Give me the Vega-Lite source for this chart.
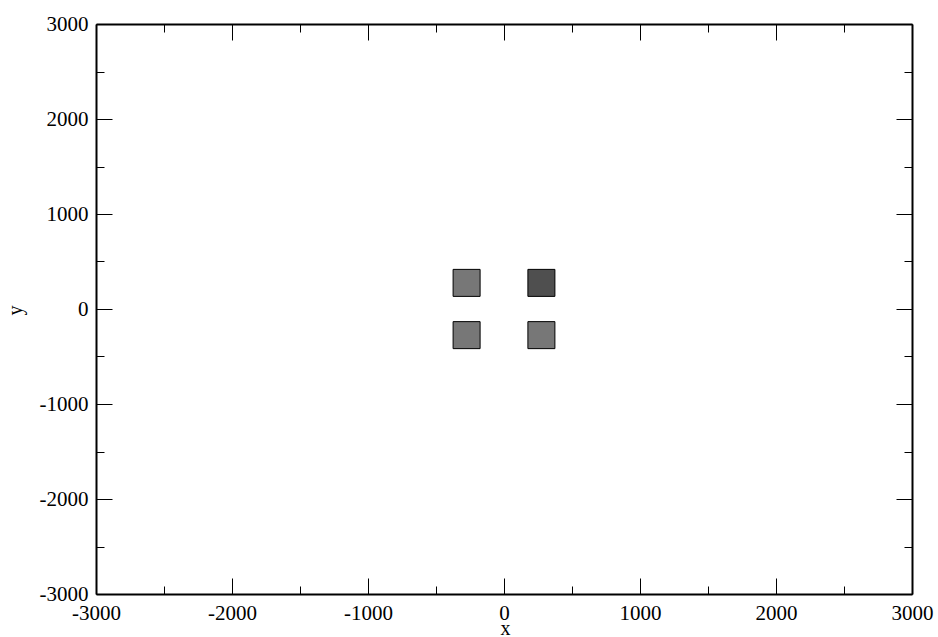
{
  "$schema": "https://vega.github.io/schema/vega-lite/v6.json",
  "width": 816,
  "height": 570,
  "autosize": {"type": "none"},
  "padding": {"left": 96, "top": 24, "right": 26, "bottom": 43},
  "background": "white",
  "config": {
    "view": {"stroke": null},
    "axis": {
      "grid": false,
      "domainColor": "black",
      "domainWidth": 2,
      "tickColor": "black",
      "tickWidth": 1,
      "labelFont": "Liberation Serif",
      "labelFontSize": 21,
      "labelColor": "black",
      "labelFlush": false,
      "labelOverlap": false,
      "titleFont": "Liberation Serif",
      "titleFontSize": 20,
      "titleFontWeight": "normal",
      "titleColor": "black"
    }
  },
  "data": {
    "values": [
      {"x": -275, "y": 275, "shade": "light"},
      {"x": 275, "y": 275, "shade": "dark"},
      {"x": -275, "y": -275, "shade": "light"},
      {"x": 275, "y": -275, "shade": "light"}
    ]
  },
  "layer": [
    {
      "mark": {"type": "point", "shape": "square", "filled": true, "size": 729, "stroke": "black", "strokeWidth": 1, "opacity": 1},
      "encoding": {
        "x": {
          "field": "x", "type": "quantitative",
          "scale": {"domain": [-3000, 3000], "nice": false, "zero": false},
          "axis": {"orient": "bottom", "values": [-3000, -2000, -1000, 0, 1000, 2000, 3000], "tickSize": -16, "labelPadding": 24, "labelBaseline": "top", "labelExpr": "'' + datum.value", "title": "x", "titleX": 409, "titleY": 40, "titleBaseline": "alphabetic", "titleAlign": "center"}
        },
        "y": {
          "field": "y", "type": "quantitative",
          "scale": {"domain": [-3000, 3000], "nice": false, "zero": false},
          "axis": {"orient": "left", "values": [-3000, -2000, -1000, 0, 1000, 2000, 3000], "tickSize": -16, "labelPadding": 24, "labelBaseline": "middle", "labelExpr": "'' + datum.value", "title": "y", "titleX": -81, "titleY": 286, "titleAngle": -90, "titleAlign": "center", "titleBaseline": "middle"}
        },
        "fill": {
          "field": "shade", "type": "nominal",
          "scale": {"domain": ["light", "dark"], "range": ["#777777", "#4f4f4f"]},
          "legend": null
        }
      }
    },
    {
      "mark": {"type": "point", "opacity": 0},
      "encoding": {
        "x": {"field": "x", "type": "quantitative", "axis": {"orient": "bottom", "values": [-2500, -1500, -500, 500, 1500, 2500], "tickSize": -8, "labels": false, "domain": false, "title": null}},
        "y": {"field": "y", "type": "quantitative", "axis": {"orient": "left", "values": [-2500, -1500, -500, 500, 1500, 2500], "tickSize": -8, "labels": false, "domain": false, "title": null}}
      }
    },
    {
      "mark": {"type": "point", "opacity": 0},
      "encoding": {
        "x": {"field": "x", "type": "quantitative", "axis": {"orient": "top", "values": [-3000, -2000, -1000, 0, 1000, 2000, 3000], "tickSize": -16, "labels": false, "title": null}},
        "y": {"field": "y", "type": "quantitative", "axis": {"orient": "right", "values": [-3000, -2000, -1000, 0, 1000, 2000, 3000], "tickSize": -16, "labels": false, "title": null}}
      }
    },
    {
      "mark": {"type": "point", "opacity": 0},
      "encoding": {
        "x": {"field": "x", "type": "quantitative", "axis": {"orient": "top", "values": [-2500, -1500, -500, 500, 1500, 2500], "tickSize": -8, "labels": false, "domain": false, "title": null}},
        "y": {"field": "y", "type": "quantitative", "axis": {"orient": "right", "values": [-2500, -1500, -500, 500, 1500, 2500], "tickSize": -8, "labels": false, "domain": false, "title": null}}
      }
    }
  ],
  "resolve": {"axis": {"x": "independent", "y": "independent"}}
}
